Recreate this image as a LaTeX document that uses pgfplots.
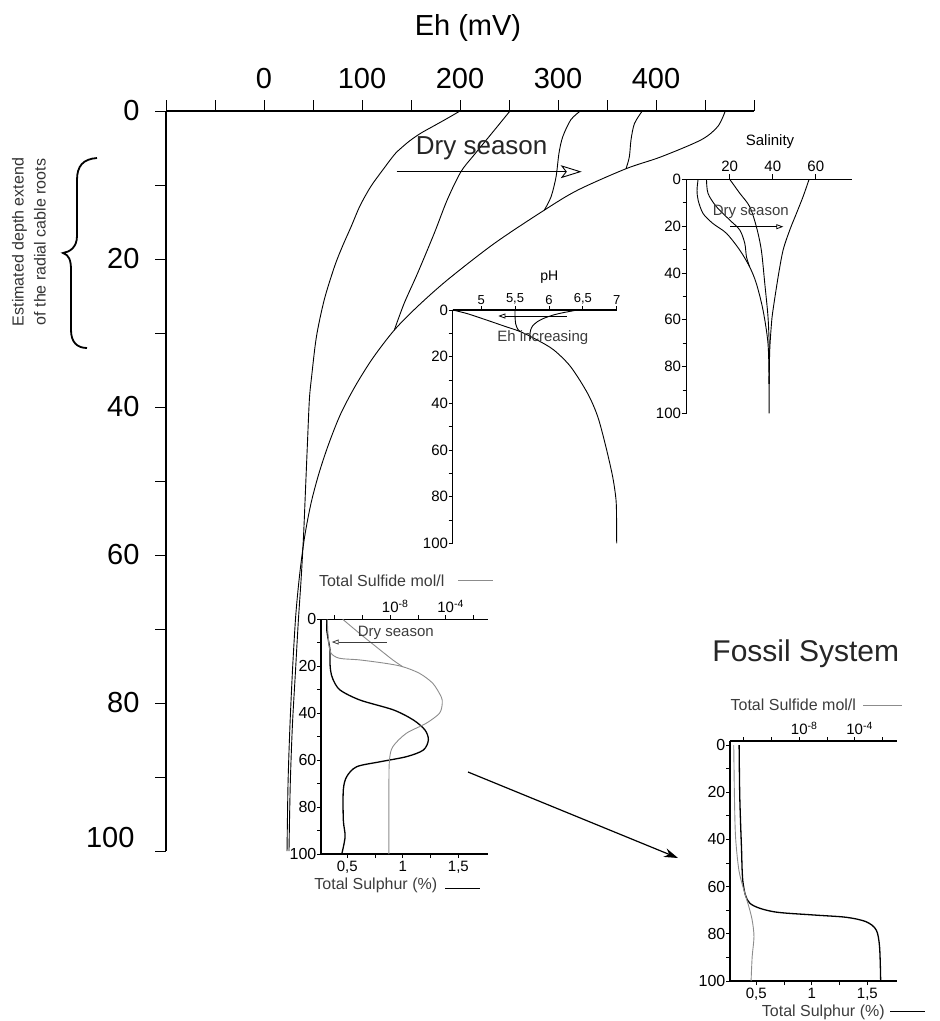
\documentclass[border=0pt]{standalone}
\usepackage{fontspec}
\setmainfont{Liberation Sans}
\usepackage{pgfplots}
\pgfplotsset{compat=1.18}
\usetikzlibrary{arrows.meta}
\definecolor{lgray}{HTML}{8C8C8C}
\definecolor{tgray}{HTML}{3C3C3C}
\newcommand{\fs}[1]{\fontsize{#1}{#1}\selectfont}
\pgfplotsset{
 inset/.style={scale only axis, clip=false, anchor=north west,
  ymin=-100, ymax=0, tick align=outside,
  axis line style={line width=1.1pt},
  tick style={black,line width=0.8pt},
  major tick length=4pt, minor tick length=4pt,
  ytick={-100,-80,...,0}, yticklabels={100,80,60,40,20,0},
  minor ytick={-90,-70,-50,-30,-10},
  yticklabel style={font=\fs{15}, inner sep=0.5pt},
  xticklabel style={font=\fs{14}, inner sep=1.5pt}},
}
\begin{document}
\begin{tikzpicture}
\path[use as bounding box] (0,0) rectangle (940pt,-1021pt);

% ---------------- main Eh axis
\begin{axis}[
 at={(166pt,-111pt)}, anchor=north west, scale only axis,
 width=588pt, height=740pt,
 xmin=-100, xmax=500, ymin=-100, ymax=0,
 clip=false,
 axis x line*=top, axis y line*=left,
 axis line style={line width=1.1pt},
 tick align=outside,
 major tick length=11pt, minor tick length=11pt,
 tick style={black, line width=1pt},
 xtick={-100,-50,...,500},
 xticklabels={,,0,,100,,200,,300,,400,,},
 ytick={-80,-60,...,0}, yticklabels={80,60,40,20,0},
 minor ytick={-90,-70,-50,-30,-10},
 extra y ticks={-100}, extra y tick labels={100},
 extra y tick style={yticklabel style={yshift=13pt, xshift=-5pt}},
 tick label style={font=\fs{29}},
 xticklabel style={yshift=8pt},
 yticklabel style={xshift=-12pt},
]
% curve A
\addplot[smooth, tension=0.5, line width=0.9pt] coordinates {
(200,0) (187,-1) (173.5,-2) (160,-3) (149,-4) (140,-5) (133,-5.9) (121,-8)
(109,-10.2) (98,-12.8) (89,-15.6) (80,-18.3) (72,-21) (61.5,-25.5) (53.5,-30.5)
(48.5,-36) (46.3,-39) (44.3,-45) (42.4,-51) (40.5,-57) (38,-63) (35,-69)
(32,-76) (29,-83) (26.8,-91) (25.5,-100)};
% curve B
\addplot[smooth, tension=0.5, line width=0.9pt] coordinates {
(251,0) (235,-2.6) (214.6,-5.9) (201,-8.2) (187,-12) (173.8,-16.5)
(156.8,-21.9) (143,-26) (133,-29.6)};
% curve C
\addplot[smooth, tension=0.5, line width=0.9pt] coordinates {
(322.8,0) (313,-1.2) (304.8,-3.5) (301,-5.7) (298,-8.9) (292.9,-11.6) (286,-13.4)};
% curve D
\addplot[smooth, tension=0.5, line width=0.9pt] coordinates {
(386,0) (378,-1.7) (374.5,-3.9) (372.8,-6.2) (369.4,-7.8)};
% curve E
\addplot[smooth, tension=0.5, line width=0.9pt] coordinates {
(470.7,0) (463,-2.1) (446,-3.9) (405,-6.2) (369.4,-7.8) (320,-10.7)
(286,-13.4) (235,-17.9) (187.4,-22.8) (156.8,-26.4) (133,-29.6) (111,-33.4)
(93,-37.2) (78,-41) (66,-45) (56,-49) (48,-53) (41.5,-57.5) (36.5,-62.5)
(32.5,-68) (29.3,-75) (26.5,-83) (24.5,-91) (23.5,-100)};
\end{axis}
\node[font=\fs{29}] at (468pt,-28pt) {Eh (mV)};
\node[font=\fs{26}, text=black!85] at (481.7pt,-148pt) {Dry season};
\draw[line width=0.9pt, -{Stealth[open, inset=5pt, length=21pt, width=13pt]}]
 (396.7pt,-171.7pt) -- (581.7pt,-171.7pt);

% brace and its label
\draw[line width=1.8pt] (97pt,-158pt) .. controls (83pt,-159pt) and (77pt,-166pt) .. (77pt,-180pt)
 -- (77pt,-236pt) .. controls (77pt,-247pt) and (70pt,-252pt) .. (63pt,-253pt)
 .. controls (69pt,-255pt) and (71pt,-260pt) .. (71pt,-270pt)
 -- (71pt,-330pt) .. controls (71pt,-342pt) and (77pt,-348pt) .. (87pt,-348pt);
\node[font=\fontsize{16}{22}\selectfont, text=black!80, align=center, rotate=90]
 at (29pt,-242pt) {Estimated depth extend\\of the radial cable roots};

% ---------------- pH inset
\begin{axis}[inset,
 at={(452.7pt,-310pt)}, width=164pt, height=233.3pt,
 xmin=4.58, xmax=7.0,
 axis x line*=top, axis y line*=left,
 xtick={5,5.5,6,6.5,7}, xticklabels={5,{5,5},6,{6,5},7},
 xticklabel style={font=\fs{13}},
]
\addplot[smooth, tension=0.5, line width=0.9pt] coordinates {
(4.58,0) (4.8,-1.6) (5.08,-4.3) (5.35,-7) (5.58,-9.3) (5.83,-12.9) (6.07,-17.1)
(6.32,-24.3) (6.57,-35.7) (6.72,-45.7) (6.84,-58.6) (6.94,-71.4) (6.99,-81.4)
(6.998,-90) (7.0,-100)};
\addplot[smooth, tension=0.5, line width=0.9pt] coordinates {
(5.5,0) (5.5,-3) (5.51,-6) (5.54,-8.2) (5.58,-9.3)};
\addplot[smooth, tension=0.5, line width=0.9pt] coordinates {
(6.42,0) (6.2,-1.2) (6.07,-2.1) (5.93,-3.5) (5.83,-5) (5.76,-6.8) (5.73,-8.6)
(5.72,-10.5) (5.73,-12.5)};
\end{axis}
\node[font=\fs{14}] at (549.3pt,-277.3pt) {pH};
\draw[line width=0.8pt, -{Triangle[open, length=7pt, width=5pt]}]
 (566.7pt,-316pt) -- (498.3pt,-316pt);
\node[font=\fs{15}, text=tgray] at (542.8pt,-338pt) {Eh increasing};

% ---------------- salinity inset
\begin{axis}[inset,
 at={(686.7pt,-179.3pt)}, width=165pt, height=234pt,
 xmin=0, xmax=76.7,
 axis x line*=top, axis y line*=left,
 xtick={20,40,60}, xticklabels={20,40,60},
 major tick length=5pt,
 xticklabel style={font=\fs{15}, inner sep=2pt},
]
\addplot[smooth, tension=0.5, line width=0.9pt] coordinates {
(5.3,0) (4.8,-4.6) (5.3,-8.9) (7.6,-14.6) (12.2,-18.9) (18.5,-23.1) (24.7,-30.3)
(29.3,-37.5) (32.4,-44.6) (35.5,-56) (37.8,-70.3) (38.3,-87.4) (38.3,-100)};
\addplot[smooth, tension=0.5, line width=0.9pt] coordinates {
(9.2,0) (9.9,-6) (13.8,-11.7) (20,-17.4) (24.7,-21.7) (27,-27.4) (27.8,-33.2) (29.3,-37.5)};
\addplot[smooth, tension=0.5, line width=0.9pt] coordinates {
(20,0) (24.7,-6) (29.3,-11.7) (32.4,-20.3) (34.7,-30.3) (36.3,-44.6) (37.8,-58.9)
(38.4,-73) (38.3,-87.4)};
\addplot[smooth, tension=0.5, line width=0.9pt] coordinates {
(56.9,0) (54.1,-7.4) (51,-14.6) (47.9,-21.7) (44.8,-30.3) (42.5,-41.7) (40.1,-56)
(39.4,-61.7) (38.6,-73) (38.3,-87.4)};
\end{axis}
\node[font=\fs{15}] at (770pt,-142pt) {Salinity};
\node[font=\fs{15}, text=tgray] at (750.8pt,-211.7pt) {Dry season};
\draw[line width=0.8pt, -{Triangle[open, length=7pt, width=5pt]}]
 (730pt,-226.7pt) -- (783.3pt,-226.7pt);

% ---------------- active sulphur inset: total sulphur (bottom)
\begin{axis}[inset,
 at={(321pt,-619.3pt)}, width=167pt, height=234.7pt,
 xmin=0.263, xmax=1.767,
 axis x line*=bottom, axis y line*=left,
 xtick={0.5,0.75,1,1.25,1.5}, xticklabels={{0,5},,1,,{1,5}},
 xticklabel style={font=\fs{15}, inner sep=3pt},
 yticklabel style={font=\fs{16}},
]
\addplot[smooth, tension=0.5, line width=1.3pt] coordinates {
(0.315,0) (0.315,-4.5) (0.329,-8.8) (0.344,-13) (0.344,-18.7) (0.35,-22)
(0.37,-25.5) (0.434,-30.1) (0.614,-34.4) (0.915,-38.6) (1.095,-42.9) (1.2,-47.2)
(1.23,-51.4) (1.185,-55.7) (1.035,-58.5) (0.795,-60.7) (0.585,-62.8) (0.495,-67)
(0.464,-72.7) (0.464,-85.5) (0.48,-92.6) (0.45,-100)};
\end{axis}
% active inset: total sulfide (top, log10)
\begin{axis}[inset,
 at={(321pt,-619.3pt)}, width=167pt, height=234.7pt,
 xmin=-13, xmax=-0.95,
 axis x line*=top, axis y line=none,
 xtick={-12,-10,-8,-6,-4,-2},
 xticklabels={,,10\rlap{\textsuperscript{-8}},,10\rlap{\textsuperscript{-4}},},
 xticklabel style={font=\fs{15}, inner sep=2pt},
]
\addplot[smooth, tension=0.5, line width=0.9pt, lgray] coordinates {
(-11.43,0) (-10.22,-6) (-9.02,-11.7) (-7.82,-17.3) (-7.1,-20.2)};
\addplot[smooth, tension=0.5, line width=0.9pt, lgray] coordinates {
(-12.55,0) (-12.5,-6) (-12.42,-11) (-12.27,-14.5) (-11.67,-16.6) (-10.22,-17.3)
(-8.3,-18.8) (-7.1,-20.2) (-5.9,-23) (-4.93,-27.3) (-4.33,-33) (-4.25,-35.8)
(-4.45,-40) (-5.41,-44.3) (-6.85,-48.6) (-7.82,-54.3) (-8.06,-60) (-8.1,-71.3)
(-8.1,-100)};
\end{axis}
\node[font=\fs{16}, text=tgray] at (381.7pt,-581pt) {Total Sulfide mol/l};
\draw[lgray, line width=1pt] (458.3pt,-580.7pt) -- (493.3pt,-580.7pt);
\node[font=\fs{16}, text=tgray] at (375.8pt,-885pt) {Total Sulphur (\%)};
\draw[black, line width=1.2pt] (445pt,-888.3pt) -- (480pt,-888.3pt);
\node[font=\fs{15}, text=tgray] at (395.8pt,-633.3pt) {Dry season};
\draw[tgray, line width=0.8pt, -{Triangle[open, length=7pt, width=5pt]}]
 (386.7pt,-642pt) -- (331.7pt,-642pt);

% big arrow
\draw[line width=1.2pt, -{Stealth[length=14pt, width=9pt]}] (468pt,-772pt) -- (678pt,-858pt);

% ---------------- fossil inset: total sulphur (bottom)
\begin{axis}[inset,
 at={(730pt,-741pt)}, width=167pt, height=240pt,
 xmin=0.263, xmax=1.767, ymax=1.7,
 axis x line*=bottom, axis y line*=left,
 xtick={0.5,0.75,1,1.25,1.5}, xticklabels={{0,5},,1,,{1,5}},
 xticklabel style={font=\fs{15}, inner sep=3pt},
 yticklabel style={font=\fs{16}},
]
\addplot[smooth, tension=0.5, line width=1.3pt] coordinates {
(0.345,0) (0.351,-21.9) (0.366,-43) (0.381,-58.6) (0.441,-67) (0.651,-70.6)
(1.01,-72) (1.31,-73) (1.49,-74.9) (1.58,-78.4) (1.61,-85.5) (1.62,-100)};
\end{axis}
\begin{axis}[inset,
 at={(730pt,-741pt)}, width=167pt, height=240pt,
 xmin=-13, xmax=-0.95, ymax=1.7,
 axis x line*=top, axis y line=none,
 xtick={-12,-10,-8,-6,-4,-2},
 xticklabels={,,10\rlap{\textsuperscript{-8}},,10\rlap{\textsuperscript{-4}},},
 xticklabel style={font=\fs{15}, inner sep=2pt},
]
\addplot[smooth, tension=0.5, line width=0.9pt, lgray] coordinates {
(-12.73,0) (-12.68,-21.9) (-12.6,-38.9) (-12.36,-53) (-12,-61.4) (-11.64,-68.5)
(-11.4,-74.2) (-11.27,-81.2) (-11.4,-89.7) (-11.48,-100)};
\end{axis}
\node[font=\fs{30}, text=black!85] at (805.8pt,-654pt) {Fossil System};
\node[font=\fs{16}, text=tgray] at (793.3pt,-705pt) {Total Sulfide mol/l};
\draw[lgray, line width=1pt] (863.3pt,-705pt) -- (901.7pt,-705pt);
\node[font=\fs{16}, text=tgray] at (823.3pt,-1012pt) {Total Sulphur (\%)};
\draw[black, line width=1.2pt] (890pt,-1011.7pt) -- (925pt,-1011.7pt);
\end{tikzpicture}
\end{document}
